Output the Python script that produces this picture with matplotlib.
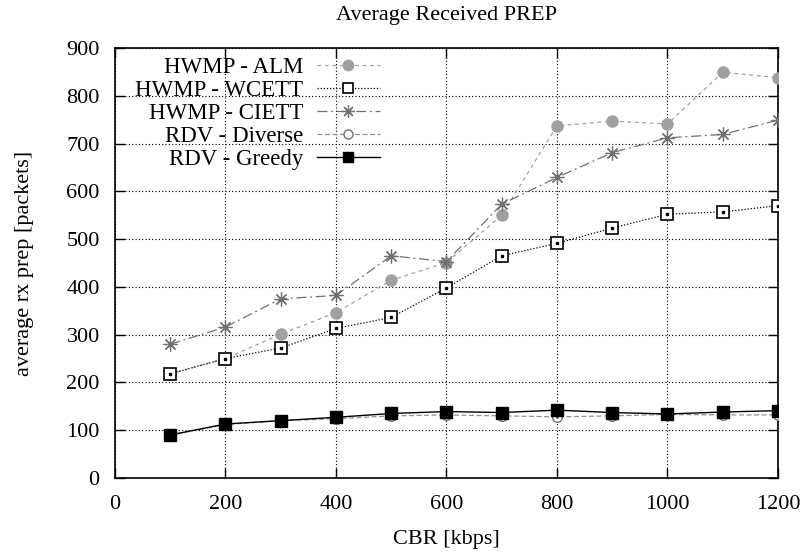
import matplotlib
matplotlib.use("Agg")
import matplotlib.pyplot as plt
from matplotlib.lines import Line2D

plt.rcParams['font.family'] = ['Liberation Serif', 'DejaVu Serif']

cbr = [100, 200, 300, 400, 500, 600, 700, 800, 900, 1000, 1100, 1200]

hwmp_alm = [218, 250, 301, 346, 414, 451, 550, 737, 747, 741, 849, 838]
hwmp_wcett = [218, 250, 272, 313, 336, 398, 465, 491, 523, 552, 557, 570]
hwmp_ciett = [280, 316, 375, 382, 465, 453, 573, 629, 681, 712, 719, 749]
rdv_diverse = [90, 112, 120, 124, 130, 132, 130, 128, 130, 133, 132, 132]
rdv_greedy = [90, 113, 120, 127, 135, 139, 137, 142, 137, 134, 138, 141]

series_labels = ['HWMP - ALM', 'HWMP - WCETT', 'HWMP - CIETT',
                 'RDV - Diverse', 'RDV - Greedy']
x_ticks = [0, 200, 400, 600, 800, 1000, 1200]
y_ticks = [0, 100, 200, 300, 400, 500, 600, 700, 800, 900]

fig = plt.figure(figsize=(8.08, 5.54), dpi=100)
ax = fig.add_axes([0.1423, 0.1372, 0.8205, 0.7762])

styles = [
    dict(color='#a0a0a0', linestyle=(0, (3, 3)), linewidth=0.9, marker='o',
         markerfacecolor='#a0a0a0', markeredgecolor='#a0a0a0'),
    dict(color='black', linestyle=(0, (1, 1.5)), linewidth=0.9, marker='s',
         markerfacecolor='white', markeredgecolor='black', markeredgewidth=1.2),
    dict(color='#707070', linestyle=(0, (8, 3, 1.5, 3)), linewidth=0.9,
         marker=(8, 2, 0), markeredgecolor='#707070', markeredgewidth=0.9),
    dict(color='#909090', linestyle=(0, (4, 2)), linewidth=0.9, marker='o',
         markerfacecolor='white', markeredgecolor='#707070', markeredgewidth=1.0),
    dict(color='black', linestyle='-', linewidth=1.0, marker='s',
         markerfacecolor='black', markeredgecolor='black'),
]
plot_sizes = [8, 8, 10, 7, 8]
legend_sizes = [7.5, 7, 9, 6.5, 7]
orders = [3, 4, 5, 3, 6]
data = [hwmp_alm, hwmp_wcett, hwmp_ciett, rdv_diverse, rdv_greedy]

for ys, st, ms, z, lab in zip(data, styles, plot_sizes, orders, series_labels):
    ax.plot(cbr, ys, markersize=ms, zorder=z, label=lab, **st)

# centre dots inside the open markers
ax.plot(cbr, hwmp_wcett, linestyle='none', marker='s', markersize=1.5,
        color='black', zorder=4.1)
ax.plot(cbr, rdv_diverse, linestyle='none', marker='o', markersize=1.2,
        color='#707070', zorder=3.1)

ax.set_xlim(0, 1200)
ax.set_ylim(0, 900)
ax.set_xticks(x_ticks)
ax.set_yticks(y_ticks)
ax.tick_params(direction='in', length=7, width=1, top=True, right=True,
               labelsize=16)
ax.tick_params(axis='x', pad=12)
ax.tick_params(axis='y', pad=11)
ax.grid(True, color='black', linestyle=(0, (1, 2)), linewidth=0.8)
for s in ax.spines.values():
    s.set_linewidth(1.2)

ax.set_title('Average Received PREP', fontsize=16, pad=20)
ax.set_xlabel('CBR [kbps]', fontsize=16, labelpad=12)
ax.set_ylabel('average rx prep [packets]', fontsize=16, labelpad=23)

handles = [Line2D([], [], markersize=ms, **st) for st, ms in zip(styles, legend_sizes)]
ax.legend(handles, series_labels, loc='upper right', bbox_to_anchor=(0.3997, 0.979),
          frameon=False, markerfirst=False, fontsize=16.5, handlelength=2.75,
          labelspacing=0.09, handletextpad=0.6, borderaxespad=0, borderpad=0)

fig.savefig('out.png', dpi=100)
